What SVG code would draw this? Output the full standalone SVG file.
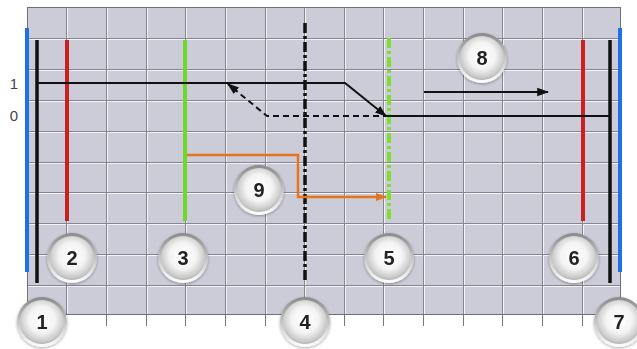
<svg xmlns="http://www.w3.org/2000/svg" width="637" height="349" viewBox="0 0 637 349">
<defs>
<style>
.gd{stroke:#85858f;stroke-width:1}
.gw{stroke:#f4f4f8;stroke-width:1}
.tick{stroke:#777;stroke-width:1}
.badge text{font-family:"Liberation Sans",Arial,sans-serif;font-weight:bold;font-size:20px;fill:#222;text-anchor:middle}
.lbl{font-family:"Liberation Sans",Arial,sans-serif;font-size:15px;fill:#444;text-anchor:middle}
</style>
<linearGradient id="rim" x1="0" y1="0" x2="0" y2="1">
<stop offset="0" stop-color="#8a8a8a"/>
<stop offset="1" stop-color="#ffffff"/>
</linearGradient>
<radialGradient id="pearl" cx="50%" cy="45%" r="60%">
<stop offset="0" stop-color="#ffffff"/>
<stop offset="0.5" stop-color="#f4f4f4"/>
<stop offset="0.82" stop-color="#cacaca"/>
<stop offset="1" stop-color="#9a9a9a"/>
</radialGradient>
<filter id="sh" x="-30%" y="-30%" width="160%" height="160%">
<feGaussianBlur in="SourceAlpha" stdDeviation="1.5"/>
<feOffset dx="0" dy="1" result="b"/>
<feComponentTransfer><feFuncA type="linear" slope="0.35"/></feComponentTransfer>
<feMerge><feMergeNode/><feMergeNode in="SourceGraphic"/></feMerge>
</filter>
<marker id="ah" viewBox="0 0 10 10" refX="9" refY="5" markerWidth="6" markerHeight="6" orient="auto" markerUnits="strokeWidth">
<path d="M0,1.5 L10,5 L0,8.5 Z" fill="#111"/>
</marker>
<marker id="aho" viewBox="0 0 10 10" refX="9" refY="5" markerWidth="4.5" markerHeight="4.5" orient="auto" markerUnits="strokeWidth">
<path d="M0,1.5 L10,5 L0,8.5 Z" fill="#e8731f"/>
</marker>
<g id="b">
<circle r="25" fill="url(#rim)"/>
<circle r="22" fill="url(#pearl)"/>
</g>
</defs>
<rect width="637" height="349" fill="#ffffff"/>
<g id="panel">
<rect x="27" y="7" width="594" height="308" fill="#cbccd7"/>
<g class="gw">
<path d="M67.5,7V315M107.5,7V315M147.5,7V315M186.5,7V315M226.5,7V315M266.5,7V315M305.5,7V315M345.5,7V315M384.5,7V315M424.5,7V315M464.5,7V315M503.5,7V315M543.5,7V315M583.5,7V315"/>
<path d="M27,39.5H621M27,70.5H621M27,101.5H621M27,132.5H621M27,163.5H621M27,193.5H621M27,224.5H621M27,255.5H621M27,286.5H621"/>
</g>
<g class="gd">
<path d="M66.5,7V315M106.5,7V315M146.5,7V315M185.5,7V315M225.5,7V315M265.5,7V315M304.5,7V315M344.5,7V315M383.5,7V315M423.5,7V315M463.5,7V315M502.5,7V315M542.5,7V315M582.5,7V315"/>
<path d="M27,38.5H621M27,69.5H621M27,100.5H621M27,131.5H621M27,162.5H621M27,192.5H621M27,223.5H621M27,254.5H621M27,285.5H621"/>
</g>
<rect x="27.5" y="7.5" width="593" height="307" fill="none" stroke="#6f6f78" stroke-width="1"/>
<g class="tick">
<path d="M106.5,315V326M146.5,315V326M185.5,315V326M225.5,315V326M265.5,315V326M344.5,315V326M383.5,315V326M423.5,315V326M463.5,315V326M502.5,315V326M542.5,315V326M582.5,315V326"/>
<path d="M27.5,290V315M620.5,290V315"/>
</g>
<text class="lbl" x="14" y="89">1</text>
<text class="lbl" x="14" y="121">0</text>
</g>
<g id="conductors">
<line x1="27" y1="28" x2="27" y2="272" stroke="#1f6fe6" stroke-width="4"/>
<line x1="620" y1="28" x2="620" y2="272" stroke="#1f6fe6" stroke-width="4"/>
<line x1="37" y1="40" x2="37" y2="283" stroke="#111" stroke-width="3.5"/>
<line x1="610" y1="40" x2="610" y2="283" stroke="#111" stroke-width="3.5"/>
<line x1="67" y1="40" x2="67" y2="221" stroke="#cc1f22" stroke-width="4"/>
<line x1="583" y1="40" x2="583" y2="221" stroke="#cc1f22" stroke-width="4"/>
<line x1="185" y1="40" x2="185" y2="221" stroke="#6fd92a" stroke-width="4"/>
<line x1="389" y1="38" x2="389" y2="221" stroke="#7ddf30" stroke-width="4" stroke-dasharray="10 3 3 3"/>
<line x1="305" y1="23" x2="305" y2="283" stroke="#111" stroke-width="3.5" stroke-dasharray="10 3 3 3"/>
</g>
<g id="connectors" fill="none">
<path d="M37,83H345L386,116" stroke="#111" stroke-width="2" marker-end="url(#ah)"/>
<path d="M389,116H610" stroke="#111" stroke-width="2"/>
<path d="M389,116H267L228,84" stroke="#111" stroke-width="2" stroke-dasharray="6 4" marker-end="url(#ah)"/>
<path d="M424,92H548" stroke="#111" stroke-width="2" marker-end="url(#ah)"/>
<path d="M187,155H298V197H386" stroke="#e8731f" stroke-width="2.5" marker-end="url(#aho)"/>
</g>
<g id="n1" class="badge" filter="url(#sh)"><use href="#b" x="42" y="322"/><text x="42" y="329">1</text></g>
<g id="n2" class="badge" filter="url(#sh)"><use href="#b" x="72" y="258"/><text x="72" y="265">2</text></g>
<g id="n3" class="badge" filter="url(#sh)"><use href="#b" x="183" y="258"/><text x="183" y="265">3</text></g>
<g id="n4" class="badge" filter="url(#sh)"><use href="#b" x="305" y="322"/><text x="305" y="329">4</text></g>
<g id="n5" class="badge" filter="url(#sh)"><use href="#b" x="389" y="258"/><text x="389" y="265">5</text></g>
<g id="n6" class="badge" filter="url(#sh)"><use href="#b" x="574" y="258"/><text x="574" y="265">6</text></g>
<g id="n7" class="badge" filter="url(#sh)"><use href="#b" x="619" y="322"/><text x="619" y="329">7</text></g>
<g id="n8" class="badge" filter="url(#sh)"><use href="#b" x="482" y="58"/><text x="482" y="65">8</text></g>
<g id="n9" class="badge" filter="url(#sh)"><use href="#b" x="259" y="190"/><text x="259" y="197">9</text></g>
</svg>
